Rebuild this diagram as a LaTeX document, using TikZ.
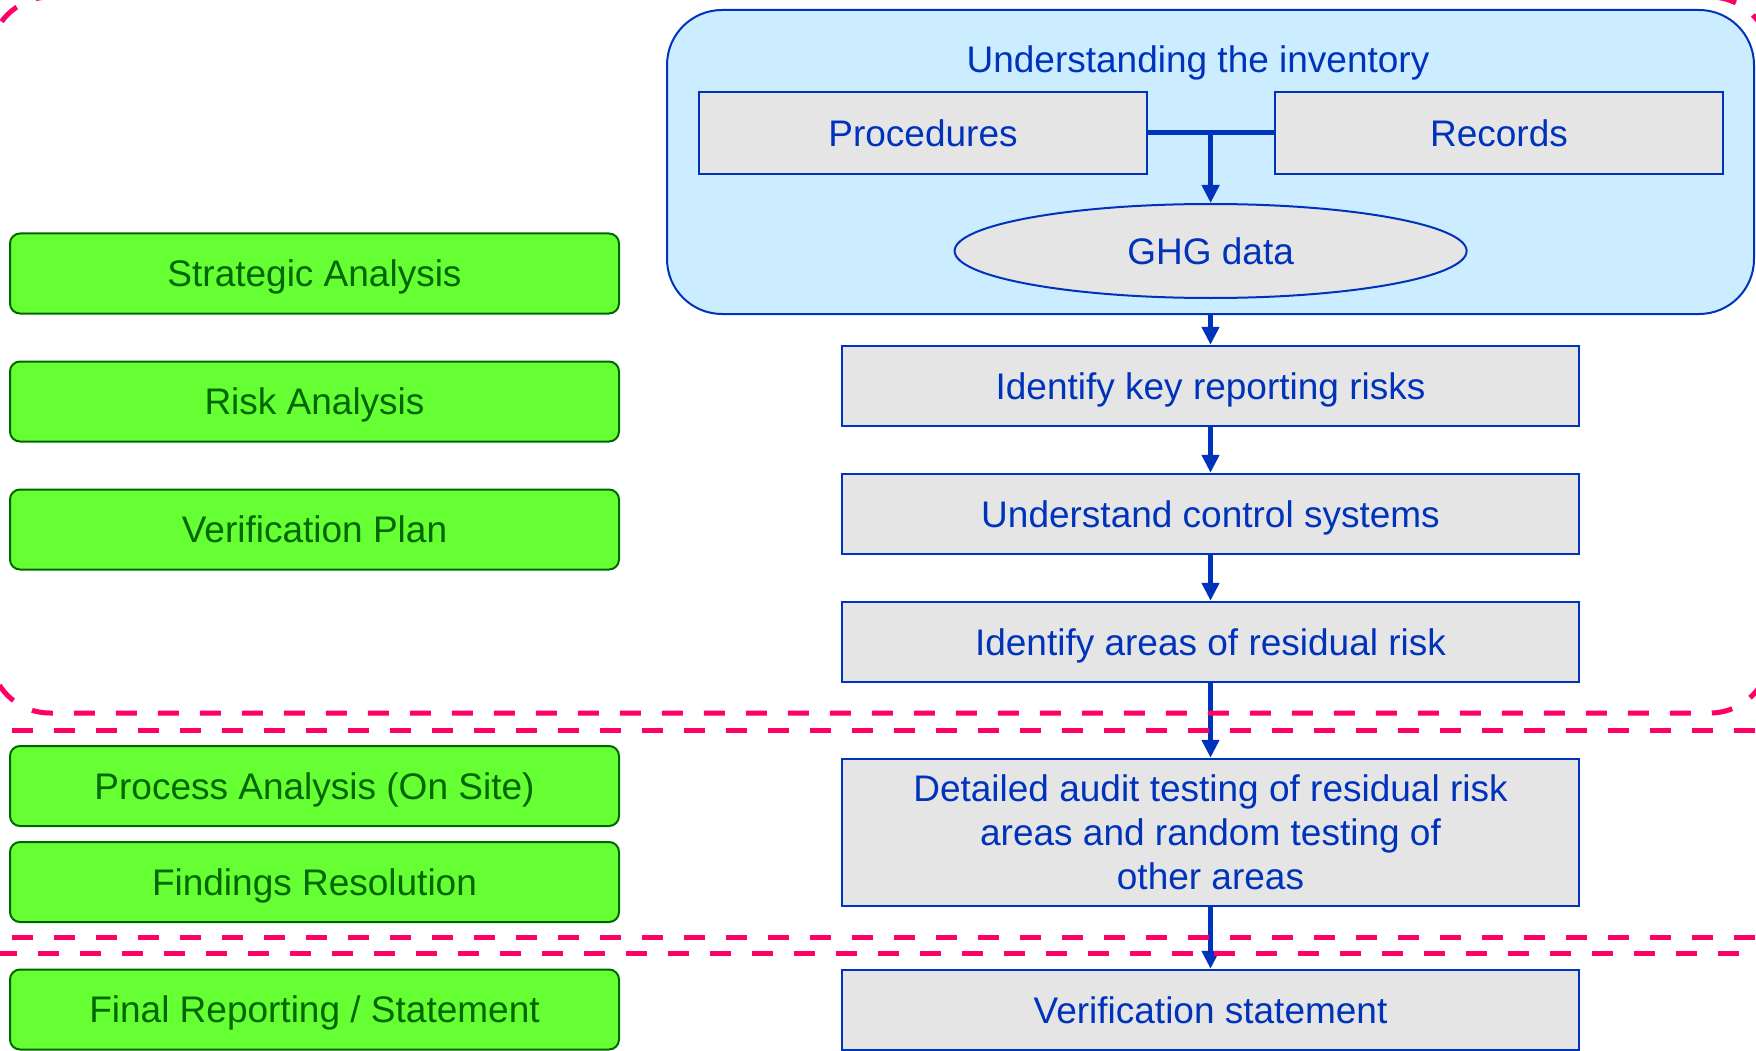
\documentclass[tikz,border=0pt]{standalone}
\usepackage{fontspec}
\setmainfont{Liberation Sans}
\usetikzlibrary{arrows.meta,shapes.geometric}
\definecolor{ublue}{RGB}{0,51,187}
\definecolor{ugray}{RGB}{229,229,229}
\definecolor{ulight}{RGB}{204,236,255}
\definecolor{ugreen}{RGB}{102,255,51}
\definecolor{udkgreen}{RGB}{0,102,0}
\definecolor{upink}{RGB}{255,0,102}
\begin{document}
\begin{tikzpicture}[x=1pt,y=-1pt,
  font=\fontsize{37}{44}\selectfont,
  onel/.style={text height=26.5pt, text depth=0pt},
  phase/.style={draw=udkgreen, fill=ugreen, line width=2pt, rounded corners=10pt,
    minimum width=609pt, minimum height=80pt, inner sep=0pt, text=udkgreen, onel},
  boxbase/.style={draw=ublue, fill=ugray, line width=2.5pt, inner sep=0pt, text=ublue},
  stepbox/.style={boxbase, minimum width=737pt, minimum height=80pt, onel},
  conn/.style={draw=ublue, line width=5pt},
  arr/.style={conn, -{Triangle[length=18pt,width=17pt]}},
  pinkdash/.style={draw=upink, line width=5pt, dash pattern=on 21pt off 21pt}
]
\useasboundingbox (0,0) rectangle (1756,1051);

% left phases
\node[phase] (sa) at (314.5,273.5) {Strategic Analysis};
\node[phase] (ra) at (314.5,401.5) {Risk Analysis};
\node[phase] (vp) at (314.5,529.5) {Verification Plan};
\node[phase] (pa) at (314.5,786) {Process Analysis (On Site)};
\node[phase] (fr) at (314.5,882) {Findings Resolution};
\node[phase] (fs) at (314.5,1009.5) {Final Reporting / Statement};

% inventory container
\node[draw=ublue, fill=ulight, line width=2pt, rounded corners=55pt,
  minimum width=1087pt, minimum height=304pt, inner sep=0pt] (inv) at (1210.5,162) {};
\node[text=ublue, onel, inner sep=0pt] (title) at (1198,59.5) {Understanding the inventory};
\node[boxbase, minimum width=448pt, minimum height=82pt, onel] (proc) at (923,133) {Procedures};
\node[boxbase, minimum width=448pt, minimum height=82pt, onel] (rec) at (1499,133) {Records};
\node[boxbase, line width=2pt, ellipse, minimum width=512pt, minimum height=94pt, onel] (ghg) at (1210.6,251) {GHG data};

% main flow
\node[stepbox] (key) at (1210.5,386) {Identify key reporting risks};
\node[stepbox] (ctrl) at (1210.5,514) {Understand control systems};
\node[stepbox] (res) at (1210.5,642) {Identify areas of residual risk};
\node[boxbase, minimum width=737pt, minimum height=147pt, align=center] (det) at (1210.5,832.5)
  {Detailed audit testing of residual risk\\areas and random testing of \\other areas};
\node[stepbox] (stmt) at (1210.5,1010) {Verification statement};

% connectors
\draw[conn] (proc.east) -- (rec.west);
\coordinate (tj) at (ghg.north |- proc.east);
\draw[arr] (tj) -- (ghg.north);
\draw[arr] (inv.south) -- (key.north);
\draw[arr] (key.south) -- (ctrl.north);
\draw[arr] (ctrl.south) -- (res.north);
\draw[arr] (res.south) -- (det.north);
\draw[arr] (det.south) -- (stmt.north);

% pink dashed phase separators
\begin{scope}
\clip (0,0) rectangle (1756,1051);
\draw[pinkdash, rounded corners=60pt] (-10,-3) rectangle (1770,713);
\draw[pinkdash] (12,730) -- (1756,730);
\draw[pinkdash] (12,937) -- (1756,937);
\draw[pinkdash, dash phase=4pt] (0,953) -- (1756,953);
\end{scope}
\end{tikzpicture}
\end{document}
